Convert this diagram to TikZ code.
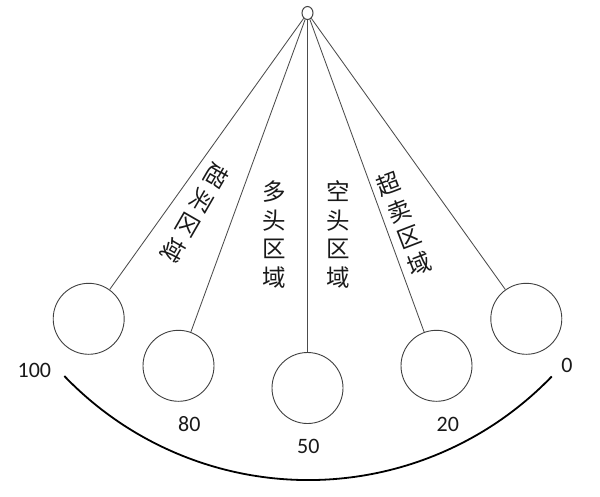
\documentclass[tikz,border=0pt]{standalone}
\usepackage{fontspec}
\setmainfont{Carlito}
\newfontfamily\cjkfont{Noto Sans CJK SC}
\usetikzlibrary{shapes.geometric}
\begin{document}
\begin{tikzpicture}[x=1pt,y=-1pt,
  ball/.style={circle,draw=black!75,line width=0.9pt,minimum size=71pt,inner sep=0pt},
  string/.style={draw=black!70,line width=0.85pt},
  num/.style={font=\fontsize{22}{22}\selectfont,text=black!90,inner sep=0pt},
  zone/.style={font=\cjkfont\fontsize{23.5}{28.5}\selectfont,align=center,inner sep=0pt,text=black!90}]
\useasboundingbox (0,0) rectangle (600,496);
\node[ellipse,draw=black!75,line width=1pt,minimum width=11pt,minimum height=13pt,inner sep=0pt] (pv) at (307.5,13) {};
\node[ball] (b1) at (88.7,318.8) {};
\node[ball] (b2) at (178.5,365.8) {};
\node[ball] (b3) at (307.5,388) {};
\node[ball] (b4) at (436.5,365.8) {};
\node[ball] (b5) at (526.3,318.8) {};
\foreach \b in {b1,b2,b3,b4,b5} \draw[string] (pv) -- (\b);
\draw[line width=1.8pt,black] (64.3,376) arc[start angle=136.2,end angle=43.9,radius=338];
\node[num] (n100) at (34.4,370) {100};
\node[num] (n80) at (189.3,424) {80};
\node[num] (n50) at (308.3,446) {50};
\node[num] (n20) at (447.8,424) {20};
\node[num] (n0) at (567,365) {0};
\node[zone,rotate=-120] (z1) at (195,213) {超\hspace{4.9pt}买\hspace{4.9pt}区\hspace{4.9pt}域};
\node[zone] (z2) at (274,234.5) {多\\头\\区\\域};
\node[zone] (z3) at (338.3,234.5) {空\\头\\区\\域};
\node[zone,rotate=21] (z4) at (404,224) {超\\卖\\区\\域};
\end{tikzpicture}
\end{document}
